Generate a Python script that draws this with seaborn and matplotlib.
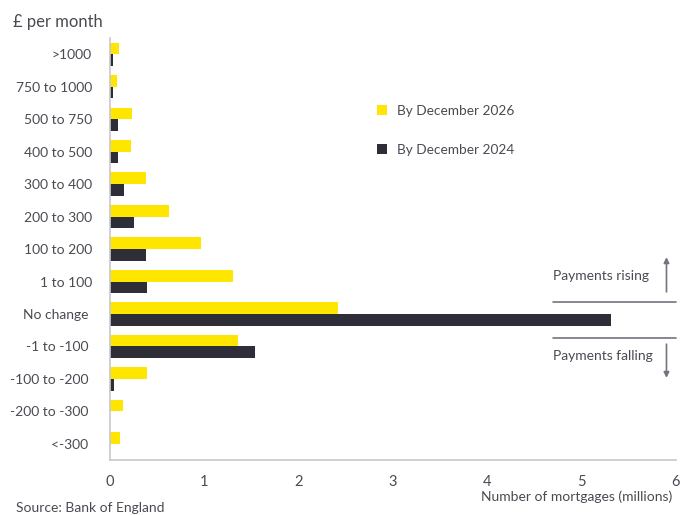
import numpy as np
import pandas as pd
import matplotlib
matplotlib.use("Agg")
import matplotlib.pyplot as plt
import seaborn as sns

# Change in monthly mortgage payments, by band
bands = [">1000", "750 to 1000", "500 to 750", "400 to 500", "300 to 400",
         "200 to 300", "100 to 200", "1 to 100", "No change ", "-1 to -100 ",
         "-100 to -200 ", "-200 to -300 ", "<-300 "]
series_names = ["By December 2026", "By December 2024"]
dec_2026 = [0.10, 0.074, 0.233, 0.223, 0.38, 0.625, 0.968, 1.30, 2.42, 1.354,
            0.392, 0.138, 0.109]
dec_2024 = [0.035, 0.028, 0.088, 0.087, 0.152, 0.25, 0.385, 0.39, 5.31, 1.534,
            0.042, 0.005, 0.003]
x_ticks = [0, 1, 2, 3, 4, 5, 6]

YELLOW = "#FFE600"
DARK = "#2E2E38"
TEXT = "#4A4A52"
RULE = "#C8C8CC"
ANNOT = "#747480"

df = pd.DataFrame({
    "band": bands * 2,
    "series": [series_names[0]] * len(bands) + [series_names[1]] * len(bands),
    "value": dec_2026 + dec_2024,
})

sns.set_theme(style="white")
plt.rcParams["font.family"] = ["Lato", "DejaVu Sans"]

fig = plt.figure(figsize=(6.8, 5.15), dpi=100)
ax = fig.add_axes([0.1618, 0.1068, 0.994 - 0.1618, 0.926 - 0.1068])

sns.barplot(data=df, y="band", x="value", hue="series", order=bands,
            hue_order=series_names, palette=[YELLOW, DARK], orient="h",
            width=0.72, gap=0, saturation=1, ax=ax, legend=True,
            linewidth=0)

ax.set_xlim(0, 6)
ax.set_ylim(len(bands) - 0.5, -0.5)
ax.set_xticks(x_ticks)
ax.set_xticklabels([str(t) for t in x_ticks])
ax.set_xlabel("")
ax.set_ylabel("")

# category boundaries carry the tick marks; labels sit at centres
ax.set_yticks(np.arange(-0.5, len(bands), 1), minor=True)
ax.tick_params(axis="y", which="major", length=0, pad=13, labelsize=10,
               labelcolor=TEXT)
ax.tick_params(axis="y", which="minor", length=4, width=1, color=RULE,
               direction="out")
ax.tick_params(axis="x", which="major", length=4, width=1, color=RULE,
               direction="out", pad=7, labelsize=10.5, labelcolor=TEXT)

for side in ("top", "right"):
    ax.spines[side].set_visible(False)
for side in ("left", "bottom"):
    ax.spines[side].set_color(RULE)
    ax.spines[side].set_linewidth(1.2)

leg = ax.legend(loc="upper left", bbox_to_anchor=(0.45, 0.87),
                frameon=False, fontsize=9.8, labelcolor=TEXT,
                handlelength=0.75, handleheight=0.75, handletextpad=0.75,
                labelspacing=1.95)

# direction markers around the "No change" row
ax.plot([4.70, 6.0], [7.63, 7.63], color=ANNOT, lw=1.2, clip_on=False)
ax.plot([4.70, 6.0], [8.74, 8.74], color=ANNOT, lw=1.2, clip_on=False)
ax.text(4.70, 6.83, "Payments rising", fontsize=10, color=TEXT, va="center",
        ha="left")
ax.text(4.70, 9.30, "Payments falling", fontsize=10, color=TEXT, va="center",
        ha="left")
ax.annotate("", xy=(5.90, 6.25), xytext=(5.90, 7.32),
            arrowprops=dict(arrowstyle="-|>", color=ANNOT, lw=1.2,
                            mutation_scale=8, shrinkA=0, shrinkB=0))
ax.annotate("", xy=(5.90, 9.97), xytext=(5.90, 8.93),
            arrowprops=dict(arrowstyle="-|>", color=ANNOT, lw=1.2,
                            mutation_scale=8, shrinkA=0, shrinkB=0))

fig.text(13 / 680, 1 - 22 / 515, "£ per month", fontsize=12, color=TEXT,
         ha="left", va="center")
fig.text(672 / 680, 1 - 497 / 515, "Number of mortgages (millions)",
         fontsize=10, color=TEXT, ha="right", va="center")
fig.text(16 / 680, 1 - 514 / 515, "Source: Bank of England", fontsize=10,
         color=TEXT, ha="left", va="bottom")

fig.savefig("out.png", dpi=100)
